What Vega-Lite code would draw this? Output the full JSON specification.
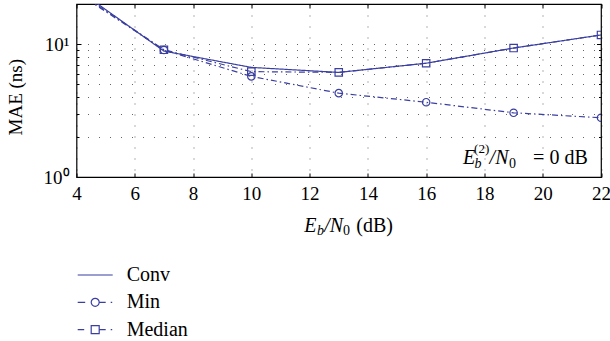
{
  "$schema": "https://vega.github.io/schema/vega-lite/v6.json",
  "width": 524.5,
  "height": 173,
  "autosize": "none",
  "padding": {"left": 76.5, "top": 4, "right": 9, "bottom": 164},
  "background": "white",
  "config": {
    "font": "Liberation Serif",
    "view": {"stroke": "black", "strokeWidth": 1.2},
    "axis": {
      "labelFont": "Liberation Serif",
      "titleFont": "Liberation Serif",
      "labelColor": "black",
      "titleColor": "black",
      "labelFontSize": 19,
      "titleFontSize": 19,
      "titleFontWeight": "normal",
      "labelFlush": false,
      "labelOverlap": false,
      "domain": false,
      "tickColor": "black",
      "tickWidth": 1,
      "gridColor": "black",
      "gridDash": [1, 10],
      "gridWidth": 1,
      "gridOpacity": 0.6
    },
    "text": {"font": "Liberation Serif"}
  },
  "datasets": {
    "mae": [
      {"x": 4, "y": 26, "series": "Conv"},
      {"x": 7, "y": 8.85, "series": "Conv"},
      {"x": 10, "y": 6.67, "series": "Conv"},
      {"x": 13, "y": 6.12, "series": "Conv"},
      {"x": 16, "y": 7.17, "series": "Conv"},
      {"x": 19, "y": 9.33, "series": "Conv"},
      {"x": 22, "y": 11.7, "series": "Conv"},
      {"x": 4, "y": 24.5, "series": "Min"},
      {"x": 7, "y": 9.02, "series": "Min"},
      {"x": 10, "y": 5.71, "series": "Min"},
      {"x": 13, "y": 4.27, "series": "Min"},
      {"x": 16, "y": 3.65, "series": "Min"},
      {"x": 19, "y": 3.04, "series": "Min"},
      {"x": 22, "y": 2.79, "series": "Min"},
      {"x": 4, "y": 25, "series": "Median"},
      {"x": 7, "y": 9.05, "series": "Median"},
      {"x": 10, "y": 6.2, "series": "Median"},
      {"x": 13, "y": 6.12, "series": "Median"},
      {"x": 16, "y": 7.17, "series": "Median"},
      {"x": 19, "y": 9.33, "series": "Median"},
      {"x": 22, "y": 11.7, "series": "Median"}
    ]
  },
  "layer": [
    {
      "data": {"name": "mae"},
      "mark": {"type": "line", "color": "#3b3fa0", "strokeWidth": 1.2, "clip": true},
      "encoding": {
        "x": {
          "field": "x", "type": "quantitative",
          "scale": {"domain": [4, 22], "nice": false, "zero": false},
          "axis": {
            "orient": "bottom",
            "values": [4, 6, 8, 10, 12, 14, 16, 18, 20, 22],
            "tickSize": -4,
            "labelPadding": 11,
            "grid": true,
            "title": null
          }
        },
        "y": {
          "field": "y", "type": "quantitative",
          "scale": {"type": "log", "domain": [1, 20], "nice": false},
          "axis": {
            "orient": "left",
            "values": [1, 2, 3, 4, 5, 6, 7, 8, 9, 10, 20],
            "labelExpr": "datum.value == 1 ? '10⁰' : (datum.value == 10 ? '10¹' : '')",
            "tickSize": {"condition": {"test": "datum.value == 1 || datum.value == 10", "value": -4.5}, "value": -2.5},
            "labelPadding": 12,
            "grid": true,
            "title": "MAE (ns)",
            "titleX": -51.5,
            "titleY": 92.7
          }
        },
        "strokeDash": {
          "field": "series", "type": "nominal",
          "scale": {"domain": ["Conv", "Min", "Median"], "range": [[1, 0], [6, 3, 1.5, 3], [6, 3, 1.5, 3]]},
          "legend": null
        }
      }
    },
    {
      "data": {"name": "mae"},
      "transform": [{"filter": "datum.series != 'Conv'"}],
      "mark": {"type": "point", "filled": false, "color": "#3b3fa0", "strokeWidth": 1.2, "size": 55, "opacity": 1, "clip": true},
      "encoding": {
        "x": {
          "field": "x", "type": "quantitative",
          "axis": {
            "orient": "top",
            "values": [4, 6, 8, 10, 12, 14, 16, 18, 20, 22],
            "tickSize": -4,
            "labels": false,
            "grid": false,
            "title": null
          }
        },
        "y": {
          "field": "y", "type": "quantitative",
          "axis": {
            "orient": "right",
            "values": [1, 2, 3, 4, 5, 6, 7, 8, 9, 10, 20],
            "tickSize": {"condition": {"test": "datum.value == 1 || datum.value == 10", "value": -4.5}, "value": -2.5},
            "labels": false,
            "grid": false,
            "title": null
          }
        },
        "shape": {
          "field": "series", "type": "nominal",
          "scale": {"domain": ["Min", "Median"], "range": ["circle", "square"]},
          "legend": null
        }
      }
    },
    {
      "data": {"name": "mae"},
      "transform": [{"filter": "false"}],
      "mark": {"type": "point", "filled": false, "color": "#3b3fa0", "strokeWidth": 1.2, "size": 400, "opacity": 1},
      "encoding": {
        "x": {"field": "x", "type": "quantitative", "axis": null},
        "y": {"field": "y", "type": "quantitative", "axis": null},
        "shape": {
          "field": "series", "type": "nominal",
          "scale": {
            "domain": ["Conv", "Min", "Median"],
            "range": [
              "M-1.75,0H1.75",
              "M-1.75,0H-1M-0.4,0A0.4,0.4 0 1,0 0.4,0A0.4,0.4 0 1,0 -0.4,0M0.4,0H1.05M1.55,0H1.7",
              "M-1.75,0H-1.1M-0.4,-0.4H0.4V0.4H-0.4ZM0.4,0H1.05M1.55,0H1.7"
            ]
          },
          "legend": {
            "orient": "none",
            "legendX": 7.7,
            "legendY": 260,
            "title": null,
            "padding": 0,
            "labelFont": "Liberation Serif",
            "labelFontSize": 20,
            "labelColor": "black",
            "labelOffset": 20.5,
            "labelLimit": 300,
            "rowPadding": 6.3,
            "symbolSize": 400,
            "symbolStrokeWidth": 1.2,
            "symbolStrokeColor": "#3b3fa0",
            "symbolFillColor": "transparent",
            "symbolOpacity": 1
          }
        }
      }
    },
    {
      "data": {"values": [{}]},
      "mark": {"type": "text", "text": "E", "align": "left", "baseline": "alphabetic", "fontSize": 20, "fontStyle": "italic", "color": "black"},
      "encoding": {"x": {"datum": 17.26, "type": "quantitative", "axis": null}, "y": {"datum": 1.26, "type": "quantitative", "axis": null}}
    },
    {
      "data": {"values": [{}]},
      "mark": {"type": "text", "text": "b", "align": "left", "baseline": "alphabetic", "fontSize": 14, "fontStyle": "italic", "color": "black"},
      "encoding": {"x": {"datum": 17.66, "type": "quantitative", "axis": null}, "y": {"datum": 1.162, "type": "quantitative", "axis": null}}
    },
    {
      "data": {"values": [{}]},
      "mark": {"type": "text", "text": "(2)", "align": "left", "baseline": "alphabetic", "fontSize": 13, "color": "black"},
      "encoding": {"x": {"datum": 17.644, "type": "quantitative", "axis": null}, "y": {"datum": 1.507, "type": "quantitative", "axis": null}}
    },
    {
      "data": {"values": [{}]},
      "mark": {"type": "text", "text": "/N", "align": "left", "baseline": "alphabetic", "fontSize": 20, "fontStyle": "italic", "color": "black"},
      "encoding": {"x": {"datum": 18.176, "type": "quantitative", "axis": null}, "y": {"datum": 1.26, "type": "quantitative", "axis": null}}
    },
    {
      "data": {"values": [{}]},
      "mark": {"type": "text", "text": "0", "align": "left", "baseline": "alphabetic", "fontSize": 14, "color": "black"},
      "encoding": {"x": {"datum": 18.844, "type": "quantitative", "axis": null}, "y": {"datum": 1.162, "type": "quantitative", "axis": null}}
    },
    {
      "data": {"values": [{}]},
      "mark": {"type": "text", "text": "= 0 dB", "align": "right", "baseline": "alphabetic", "fontSize": 20, "color": "black"},
      "encoding": {"x": {"datum": 21.545, "type": "quantitative", "axis": null}, "y": {"datum": 1.26, "type": "quantitative", "axis": null}}
    },
    {
      "data": {"values": [{}]},
      "mark": {"type": "text", "text": "E", "align": "left", "baseline": "alphabetic", "fontSize": 20, "fontStyle": "italic", "color": "black"},
      "encoding": {"x": {"datum": 11.816, "type": "quantitative", "axis": null}, "y": {"datum": 0.387, "type": "quantitative", "axis": null}}
    },
    {
      "data": {"values": [{}]},
      "mark": {"type": "text", "text": "b", "align": "left", "baseline": "alphabetic", "fontSize": 14, "fontStyle": "italic", "color": "black"},
      "encoding": {"x": {"datum": 12.25, "type": "quantitative", "axis": null}, "y": {"datum": 0.3656, "type": "quantitative", "axis": null}}
    },
    {
      "data": {"values": [{}]},
      "mark": {"type": "text", "text": "/N", "align": "left", "baseline": "alphabetic", "fontSize": 20, "fontStyle": "italic", "color": "black"},
      "encoding": {"x": {"datum": 12.5, "type": "quantitative", "axis": null}, "y": {"datum": 0.387, "type": "quantitative", "axis": null}}
    },
    {
      "data": {"values": [{}]},
      "mark": {"type": "text", "text": "0", "align": "left", "baseline": "alphabetic", "fontSize": 14, "color": "black"},
      "encoding": {"x": {"datum": 13.15, "type": "quantitative", "axis": null}, "y": {"datum": 0.3656, "type": "quantitative", "axis": null}}
    },
    {
      "data": {"values": [{}]},
      "mark": {"type": "text", "text": "(dB)", "align": "left", "baseline": "alphabetic", "fontSize": 20, "color": "black"},
      "encoding": {"x": {"datum": 13.6, "type": "quantitative", "axis": null}, "y": {"datum": 0.387, "type": "quantitative", "axis": null}}
    }
  ],
  "resolve": {
    "axis": {"x": "independent", "y": "independent"},
    "scale": {"shape": "independent"}
  }
}
